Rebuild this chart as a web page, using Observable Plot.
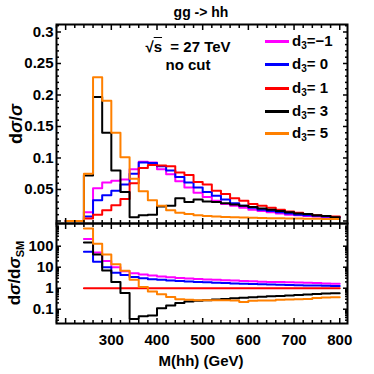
<!DOCTYPE html>
<html><head><meta charset="utf-8">
<script src="https://cdn.jsdelivr.net/npm/d3@7"></script>
<script src="https://cdn.jsdelivr.net/npm/@observablehq/plot@0.6"></script>
<style>
body{margin:0;background:#fff;}
#chart{position:relative;width:374px;height:374px;font-family:"Liberation Sans",Arial,sans-serif;font-weight:bold;color:#000;overflow:hidden;}
#chart svg{position:absolute;left:0;}
.abs{position:absolute;white-space:nowrap;}
.sw{position:absolute;height:3px;width:24px;}
sub{font-size:10px;vertical-align:-3px;line-height:0;}
</style></head><body><div id="chart"></div>
<script>
// ---- data ----
const binEdges = [200,220,240,260,280,300,320,340,360,380,400,420,440,460,480,500,520,540,560,580,600,620,640,660,680,700,720,740,760,780];
const lastEdge = 800;
const distM1 = [0,0,0.014,0.052,0.061,0.064,0.066,0.082,0.094,0.093,0.082,0.074,0.063,0.053,0.045,0.038,0.032,0.027,0.024,0.021,0.018,0.016,0.014,0.012,0.010,0.009,0.008,0.007,0.006,0.005];
const dist0  = [0,0,0.007,0.033,0.041,0.048,0.058,0.075,0.093,0.092,0.087,0.080,0.070,0.061,0.053,0.046,0.040,0.034,0.028,0.024,0.021,0.018,0.016,0.014,0.012,0.010,0.009,0.008,0.007,0.006];
const dist1  = [0,0,0.004,0.010,0.017,0.025,0.035,0.060,0.084,0.089,0.088,0.087,0.077,0.073,0.062,0.058,0.048,0.043,0.036,0.032,0.027,0.024,0.021,0.018,0.015,0.013,0.011,0.009,0.008,0.007];
const dist3  = [0,0,0.072,0.197,0.140,0.080,0.046,0.006,0.009,0.010,0.023,0.024,0.036,0.030,0.034,0.031,0.030,0.028,0.026,0.024,0.022,0.020,0.018,0.016,0.014,0.012,0.011,0.009,0.008,0.006];
const dist5  = [0,0,0.075,0.228,0.191,0.140,0.101,0.067,0.047,0.033,0.024,0.017,0.013,0.011,0.009,0.008,0.007,0.0065,0.006,0.0055,0.005,0.0048,0.0045,0.0042,0.004,0.0038,0.0036,0.0034,0.0032,0.003];

const ratioEdges = [240,260,280,300,320,340,360,380,400,420,440,460,480,500,520,540,560,580,600,620,640,660,680,700,720,740,760,780];
const ratioM1 = [220,50,20,10,6.5,5.2,4.5,4.0,3.6,3.3,3.1,2.9,2.75,2.6,2.5,2.4,2.3,2.2,2.15,2.05,2.0,1.95,1.9,1.85,1.8,1.75,1.7,1.65];
const ratio0  = [55,18,10,5.5,4.2,3.4,3.0,2.7,2.5,2.3,2.2,2.1,2.0,1.9,1.8,1.75,1.7,1.65,1.6,1.55,1.5,1.46,1.42,1.39,1.36,1.33,1.3,1.28];
const ratio1  = [1,1,1,1,1,1,1,1,1,1,1,1,1,1,1,1,1,1,1,1,1,1,1,1,1,1,1,1];
const ratio3  = [150,40,7,2.0,0.6,0.034,0.046,0.05,0.11,0.15,0.2,0.23,0.25,0.27,0.29,0.31,0.33,0.35,0.37,0.39,0.41,0.43,0.45,0.47,0.5,0.53,0.56,0.58];
const ratio5  = [700,130,40,14,6.7,2.5,1.15,0.7,0.52,0.38,0.3,0.28,0.27,0.27,0.27,0.27,0.26,0.22,0.25,0.26,0.26,0.28,0.29,0.30,0.31,0.34,0.36,0.37];

const seriesLabels = ["−1"," 0"," 1"," 3"," 5"];
const seriesColors = ["#ff00ff","#0000ff","#ff0000","#000000","#ff8000"];
const topSeries = [distM1, dist0, dist1, dist3, dist5];
const ratioSeries = [ratioM1, ratio0, ratio1, ratio3, ratio5];

const xTickLabels = [300,400,500,600,700,800];
const xMajor = [200,300,400,500,600,700,800];
const yTopLabels = [0.05,0.1,0.15,0.2,0.25,0.3];
const yTopMajor = [0,0.05,0.1,0.15,0.2,0.25,0.3];
const yBotLabels = [0.1,1,10,100];

// ---- helpers ----
const xMinor = d3.range(180, 817, 20).filter(v => v % 100 !== 0);
const yTopMinor = d3.range(0, 0.311, 0.01).filter(v => Math.abs(v/0.05 - Math.round(v/0.05)) > 1e-6);
const yBotMinor = [];
[0.01,0.1,1,10,100].forEach(dec => { for (let k = 2; k <= 9; k++) { const v = k*dec; if (v > 0.021 && v < 1200) yBotMinor.push(v); } });

function steps(edges, vals) {
  const rows = edges.map((e, i) => ({x: e, y: vals[i]}));
  rows.push({x: lastEdge, y: vals[vals.length - 1]});
  return rows;
}

const xDomain = [180, 817];
const font = "font-family:'Liberation Sans',Arial,sans-serif;font-weight:bold;background:transparent;overflow:visible;";
const tickOpts = {fill: "none", label: null, strokeWidth: 1.5};

function frameTicks(yMajor, yMinor) {
  return [
    Plot.axisX({...tickOpts, anchor: "bottom", ticks: xMajor, tickSize: 5, dy: -5}),
    Plot.axisX({...tickOpts, anchor: "bottom", ticks: xMinor, tickSize: 3, dy: -3}),
    Plot.axisX({...tickOpts, anchor: "top", ticks: xMajor, tickSize: 5, dy: 5}),
    Plot.axisX({...tickOpts, anchor: "top", ticks: xMinor, tickSize: 3, dy: 3}),
    Plot.axisY({...tickOpts, anchor: "left", ticks: yMajor, tickSize: 5, dx: 5}),
    Plot.axisY({...tickOpts, anchor: "left", ticks: yMinor, tickSize: 3, dx: 3}),
    Plot.axisY({...tickOpts, anchor: "right", ticks: yMajor, tickSize: 5, dx: -5}),
    Plot.axisY({...tickOpts, anchor: "right", ticks: yMinor, tickSize: 3, dx: -3})
  ];
}

const topPlot = Plot.plot({
  width: 374, height: 226,
  marginTop: 24, marginBottom: 3, marginLeft: 56, marginRight: 27,
  style: font,
  x: {domain: xDomain},
  y: {domain: [-0.004, 0.3119]},
  marks: [
    ...topSeries.map((vals, i) => Plot.line(steps(binEdges, vals), {x: "x", y: "y", curve: "step-after", stroke: seriesColors[i], strokeWidth: 2})),
    ...frameTicks(yTopMajor, yTopMinor),
    Plot.axisY({anchor: "left", ticks: yTopLabels, tickSize: 0, tickPadding: 3, tickFormat: d => String(d), fontSize: 15, fontWeight: "bold", label: null}),
    Plot.frame({strokeWidth: 2})
  ]
});
topPlot.style.top = "0px";

const botPlot = Plot.plot({
  width: 374, height: 161,
  marginTop: 10, marginBottom: 51, marginLeft: 56, marginRight: 27,
  style: font,
  x: {domain: xDomain},
  y: {type: "log", domain: [0.0209, 1205]},
  marks: [
    ...ratioSeries.map((vals, i) => Plot.line(steps(ratioEdges, vals), {x: "x", y: "y", curve: "step-after", stroke: seriesColors[i], strokeWidth: 2})),
    ...frameTicks(yBotLabels, yBotMinor),
    Plot.axisY({anchor: "left", ticks: yBotLabels, tickSize: 0, tickPadding: 3, tickFormat: d => String(d), fontSize: 15, fontWeight: "bold", label: null}),
    Plot.axisX({anchor: "bottom", ticks: xTickLabels, tickSize: 0, tickPadding: 11, tickFormat: d => String(d), fontSize: 15, fontWeight: "bold", label: null}),
    Plot.frame({strokeWidth: 2})
  ]
});
botPlot.style.top = "213px";

const chart = document.getElementById("chart");
chart.appendChild(topPlot);
chart.appendChild(botPlot);

function addDiv(html, css) {
  const d = document.createElement("div");
  d.className = "abs";
  d.innerHTML = html;
  d.style.cssText += css;
  chart.appendChild(d);
  return d;
}
// title & annotations
addDiv("gg -&gt; hh", "left:101px;width:200px;text-align:center;top:4px;font-size:14px;line-height:17px;");
addDiv("√<span style='text-decoration:overline'>s</span>&nbsp; = 27 TeV", "left:88px;width:200px;text-align:center;top:38px;font-size:15px;line-height:18px;");
addDiv("no cut", "left:88px;width:200px;text-align:center;top:56px;font-size:15px;line-height:18px;");
// legend
const legendY = [41, 64, 88, 111, 133];
seriesLabels.forEach((lab, i) => {
  const sw = document.createElement("div");
  sw.className = "sw";
  sw.style.cssText = `left:265px;top:${legendY[i]-1.5}px;background:${seriesColors[i]};`;
  chart.appendChild(sw);
  addDiv(`d<sub>3</sub>=${lab.replace(" ", "&nbsp;")}`, `left:292px;top:${legendY[i]-9}px;font-size:15px;line-height:18px;`);
});
// axis titles
addDiv("d<i>σ</i>/<i>σ</i>", "left:16px;top:124px;transform:translate(-50%,-50%) rotate(-90deg);font-size:18px;line-height:20px;");
addDiv("d<i>σ</i>/d<i>σ</i><sub style='font-size:11px;vertical-align:-4px'>SM</sub>", "left:15px;top:273px;transform:translate(-50%,-50%) rotate(-90deg);font-size:17px;line-height:20px;");
addDiv("M(hh) (GeV)", "left:101px;width:200px;text-align:center;top:352px;font-size:15px;line-height:18px;");
</script>
</body></html>
